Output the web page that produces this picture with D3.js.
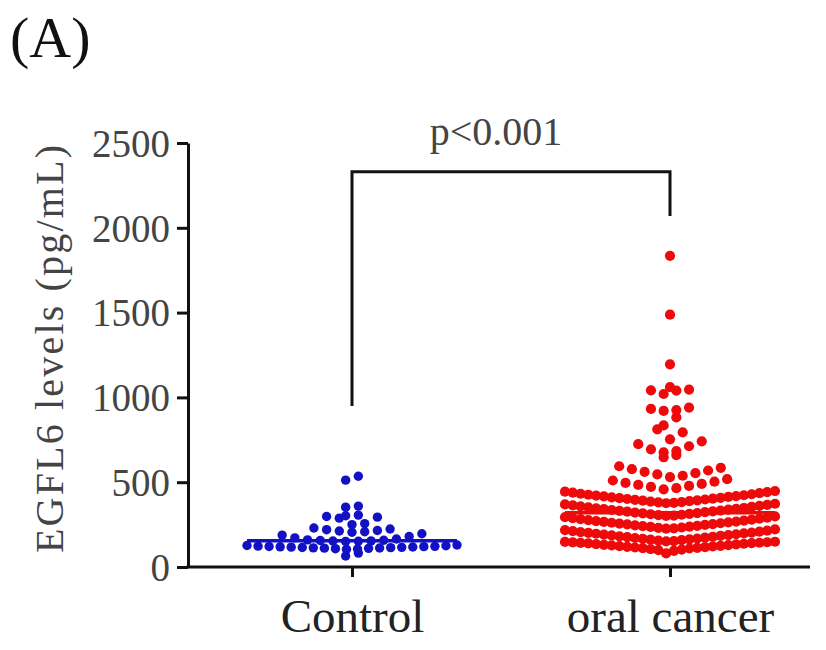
<!DOCTYPE html>
<html>
<head>
<meta charset="utf-8">
<script src="https://cdn.jsdelivr.net/npm/d3@7"></script>
<style>
  body { margin: 0; background: #fff; }
  text { font-family: "Liberation Serif", "Times New Roman", serif; }
</style>
</head>
<body>
<script>
// groups and values (pg/mL)
var groups = ["Control", "oral cancer"]
var groupColors = ["#1212c4", "#ee0a0a"]
var yTicks = [0, 500, 1000, 1500, 2000, 2500]

var controlValues = [
  65, 82,
  104, 106, 108, 110, 111, 112, 113, 114, 115, 116, 117, 118, 119, 120, 121, 122, 123, 125, 127, 130,
  151, 152, 153, 154, 156, 158, 160, 165, 172, 180, 188, 196,
  205, 208, 212, 215, 220, 224, 230,
  250, 256, 288, 294, 298,
  302, 306,
  353, 359,
  512, 535
]

var cancerValues = [
  80, 95, 100, 103, 106, 109, 111, 113, 115, 117, 119, 121, 123, 125,
  127, 129, 131, 133, 135, 137, 139, 141, 142, 143, 145, 146, 148, 149,
  151, 153, 156, 158, 161, 163, 166, 168, 171, 173, 176, 178, 181, 183,
  186, 188, 191, 193, 196, 198, 201, 203, 206, 208, 211, 214, 218, 222,
  226, 228, 231, 233, 236, 238, 241, 243, 246, 248, 251, 253, 256, 258,
  261, 263, 266, 268, 271, 273, 276, 279, 282, 285, 288, 291, 294, 298,
  301, 303, 306, 308, 311, 313, 316, 318, 321, 323, 326, 328, 331, 333,
  336, 338, 341, 343, 346, 348, 351, 354, 357, 360, 363, 366, 369, 373,
  376, 378, 381, 383, 386, 388, 391, 393, 396, 398, 401, 403, 406, 408,
  411, 413, 416, 418, 421, 423, 426, 429, 432, 435, 438, 441, 444, 448,
  458, 465, 472, 478, 484, 490, 496, 503, 510, 518,
  530, 538, 546, 553, 561, 569, 577, 585, 594,
  647, 660,
  676, 684, 694, 712, 724, 741,
  753, 794, 812,
  835, 882,
  920, 925, 932, 940,
  1020, 1040, 1042, 1046,
  1060,
  1195,
  1488,
  1835
]

var pText = "p<0.001"

var svgWidth = 826
var svgHeight = 650
var dotRs = [4.7, 5.1]
var maxStep = 12.7      // spacing of dots in a sparse row
var rowHalf = 105       // widest a row may spread from its centre
var binSizes = [50, 75] // value range that shares one row, per group
var medianHalf = 105

var svg = d3.select("body").append("svg")
    .attr("width", svgWidth)
    .attr("height", svgHeight)

var y = d3.scaleLinear().domain([0, 2500]).range([567, 143])
var x = d3.scalePoint().domain(groups).range([352, 670])
var axisLeftX = 188
var axisRightX = 810

// panel letter
svg.append("text")
    .attr("x", 10)
    .attr("y", 57)
    .attr("font-size", 58)
    .attr("fill", "#111")
    .text("(A)")

// y axis
var yAxis = svg.append("g")
    .attr("transform", "translate(" + axisLeftX + ",0)")
    .call(d3.axisLeft(y).tickValues(yTicks).tickFormat(d3.format("d"))
        .tickSize(11).tickPadding(7).tickSizeOuter(0))
yAxis.select(".domain").attr("stroke", "#111").attr("stroke-width", 3)
yAxis.selectAll(".tick line").attr("stroke", "#111").attr("stroke-width", 3)
yAxis.selectAll(".tick text")
    .attr("font-size", 39)
    .attr("font-family", "Liberation Serif, Times New Roman, serif")
    .attr("fill", "#444")
    .attr("dy", "0.34em")

// x axis
svg.append("line")
    .attr("x1", axisLeftX - 1.5)
    .attr("x2", axisRightX)
    .attr("y1", y(0))
    .attr("y2", y(0))
    .attr("stroke", "#111")
    .attr("stroke-width", 3)
var xAxis = svg.append("g")
    .attr("transform", "translate(0," + y(0) + ")")
    .call(d3.axisBottom(x).tickSize(10).tickPadding(39).tickSizeOuter(0))
xAxis.select(".domain").remove()
xAxis.selectAll(".tick line").attr("stroke", "#111").attr("stroke-width", 3)
xAxis.selectAll(".tick text")
    .attr("font-size", 47)
    .attr("font-family", "Liberation Serif, Times New Roman, serif")
    .attr("fill", "#222")
    .attr("dy", "0.35em")

// y axis title
svg.append("text")
    .attr("transform", "translate(63,349) rotate(-90)")
    .attr("text-anchor", "middle")
    .attr("font-size", 40)
    .attr("textLength", 408)
    .attr("lengthAdjust", "spacing")
    .attr("fill", "#444")
    .text("EGFL6 levels (pg/mL)")

// scatter: rows of similar values spread sideways from the centre
function swarm(values, cx, binSize) {
    var out = []
    var bins = d3.groups(values, function(v) { return Math.floor(v / binSize) })
    bins.forEach(function(b) {
        var vals = b[1].slice().sort(d3.ascending)
        var n = vals.length
        var step = n > 1 ? Math.min(maxStep, 2 * rowHalf / (n - 1)) : 0
        vals.forEach(function(v, i) {
            var k
            if (n % 2 === 1) {
                k = Math.ceil(i / 2) * (i % 2 ? 1 : -1)
            } else {
                k = (Math.floor(i / 2) + 0.5) * (i % 2 ? 1 : -1)
            }
            out.push({ v: v, x: cx + k * step })
        })
    })
    return out
}

var sets = [controlValues, cancerValues]
sets.forEach(function(vals, gi) {
    var cx = x(groups[gi])
    var g = svg.append("g")
    g.selectAll("circle")
        .data(swarm(vals, cx, binSizes[gi]))
        .enter().append("circle")
        .attr("cx", function(d) { return d.x })
        .attr("cy", function(d) { return y(d.v) })
        .attr("r", dotRs[gi])
        .attr("fill", groupColors[gi])

    var med = d3.median(vals)
    g.append("line")
        .attr("x1", cx - medianHalf)
        .attr("x2", cx + medianHalf)
        .attr("y1", y(med))
        .attr("y2", y(med))
        .attr("stroke", groupColors[gi])
        .attr("stroke-width", 3.5)
})

// significance bracket
var bx1 = x(groups[0]), bx2 = x(groups[1])
svg.append("path")
    .attr("d", "M" + bx1 + "," + y(950) + "V" + y(2330) + "H" + bx2 + "V" + y(2070))
    .attr("fill", "none")
    .attr("stroke", "#111")
    .attr("stroke-width", 3)

svg.append("text")
    .attr("x", 496)
    .attr("y", 145)
    .attr("text-anchor", "middle")
    .attr("font-size", 40)
    .attr("fill", "#444")
    .text(pText)
</script>
</body>
</html>
